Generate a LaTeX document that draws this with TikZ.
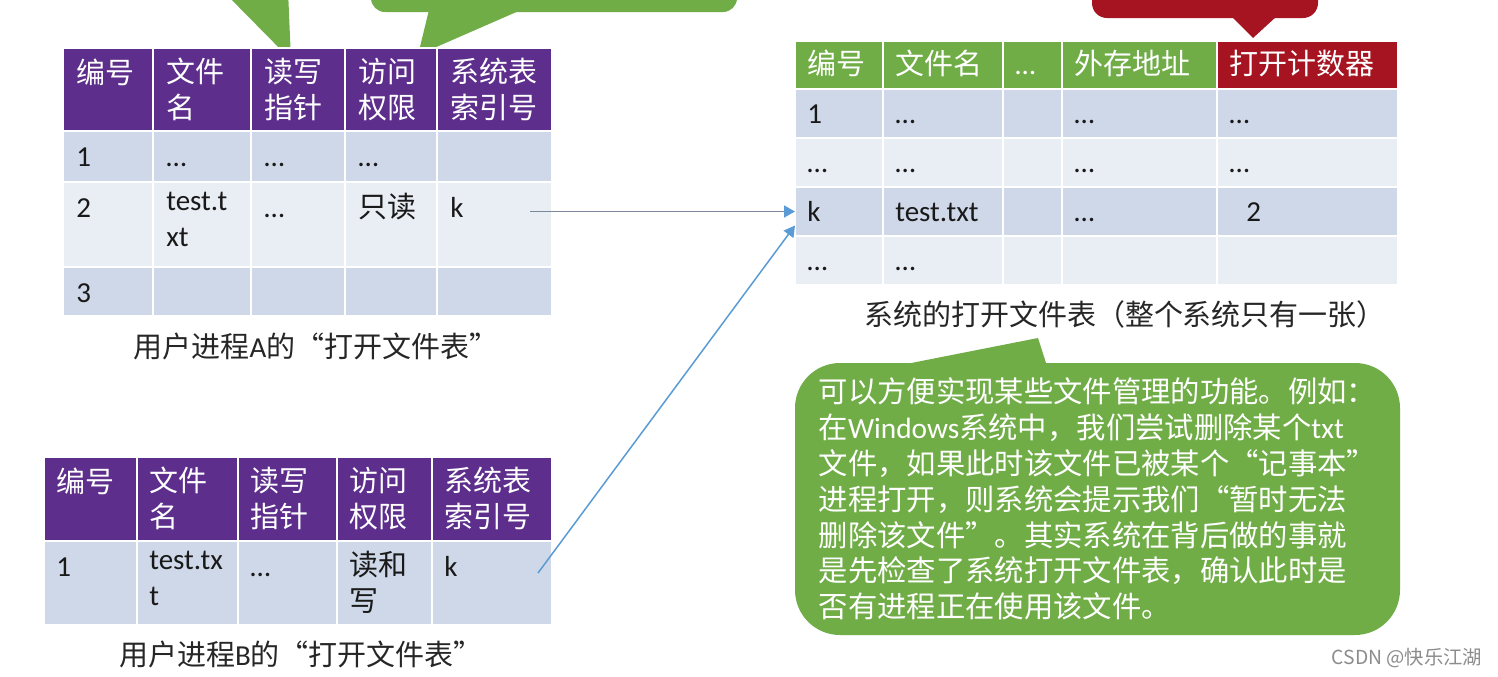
\documentclass[tikz,border=0pt]{standalone}
\usepackage{fontspec}
\setmainfont{Carlito}
\newfontfamily\cjk{Noto Sans CJK SC}
\usetikzlibrary{arrows.meta,calc}

\definecolor{hdrpurple}{RGB}{93,46,140}
\definecolor{hdrgreen}{RGB}{112,173,71}
\definecolor{hdrred}{RGB}{165,20,32}
\definecolor{rowdark}{RGB}{207,216,232}
\definecolor{rowlight}{RGB}{233,237,244}
\definecolor{callgreen}{RGB}{112,173,71}
\definecolor{linkblue}{RGB}{91,155,213}
\definecolor{linkgray}{RGB}{125,135,155}

\tikzset{
  cell/.style={draw=white, line width=0.45mm, anchor=north west, inner sep=0, outer sep=0},
  celltext/.style={anchor=north west, inner sep=0, align=left, text=black!90,
    font=\fontsize{16.5}{20.5}\selectfont, execute at begin node=\strut},
  headtext/.style={celltext, text=white, font=\fontsize{16.5}{20.5}\selectfont\cjk},
  caption/.style={inner sep=0, text=black!85, font=\fontsize{16.5}{20.5}\selectfont\cjk},
  note/.style={fill=callgreen, rounded corners=9mm, minimum width=121mm, minimum height=54.4mm,
    inner sep=0, align=left, text=white, font=\fontsize{16.7}{20.4}\selectfont\cjk},
  link/.style={line width=0.3mm, -{Triangle[length=2.2mm,width=2.4mm,color=linkblue]}},
}

\begin{document}
\begin{tikzpicture}[x=0.2mm, y=-0.2mm]
    \fill[white] (0,0) rectangle (1498,676);
    \clip (0,0) rectangle (1498,676);

    % 上方被截断的提示框
    \fill[callgreen] (222,-10) -- (291,60) -- (288,-10) -- cycle;
    \fill[callgreen, rounded corners=2.8mm] (371,-80) rectangle (737,12);
    \fill[callgreen] (429,10) -- (418,55) -- (521,10) -- cycle;
    \fill[hdrred, rounded corners=3mm] (1092,-80) rectangle (1318,18);
    \fill[hdrred] (1231,16) -- (1253,38) -- (1277,16) -- cycle;

    % 用户进程A的打开文件表
    \foreach \cx/\cw [count=\c] in {63/90,153/98,251/94,345/92,437/115} {
        \node[cell, fill=hdrpurple, minimum width=\cw*0.2mm, minimum height=83*0.2mm] (a-0-\c) at (\cx,48) {};
        \foreach \ry/\rh/\rc [count=\r] in {131/51/rowdark,182/85/rowlight,267/49/rowdark}
            \node[cell, fill=\rc, minimum width=\cw*0.2mm, minimum height=\rh*0.2mm] (a-\r-\c) at (\cx,\ry) {};
    }
    \foreach \n/\t in {a-0-1/编号, a-0-2/{文件\\名}, a-0-3/{读写\\指针}, a-0-4/{访问\\权限}, a-0-5/{系统表\\索引号}}
        \node[headtext] (\n-t) at ([shift={(13,10)}]\n.north west) {\t};
    \foreach \n/\t in {a-1-1/1, a-1-2/…, a-1-3/…, a-1-4/…, a-2-1/2, a-2-2/{test.t\\xt}, a-2-3/…, a-2-4/{\cjk 只读}, a-2-5/k, a-3-1/3}
        \node[celltext] (\n-t) at ([shift={(13,10)}]\n.north west) {\t};
    \node[caption] (capA) at (316,346) {用户进程\textrm{A}的“打开文件表”};

    % 用户进程B的打开文件表
    \foreach \cx/\cw [count=\c] in {44/93,137/101,238/99,337/95,432/120} {
        \node[cell, fill=hdrpurple, minimum width=\cw*0.2mm, minimum height=84*0.2mm] (b-0-\c) at (\cx,457) {};
        \node[cell, fill=rowdark, minimum width=\cw*0.2mm, minimum height=84*0.2mm] (b-1-\c) at (\cx,541) {};
    }
    \foreach \n/\t in {b-0-1/编号, b-0-2/{文件\\名}, b-0-3/{读写\\指针}, b-0-4/{访问\\权限}, b-0-5/{系统表\\索引号}}
        \node[headtext] (\n-t) at ([shift={(12,10)}]\n.north west) {\t};
    \foreach \n/\t in {b-1-1/1, b-1-2/{test.tx\\t}, b-1-3/…, b-1-4/{\cjk 读和\\\cjk 写}, b-1-5/k}
        \node[celltext] (\n-t) at ([shift={(12,10)}]\n.north west) {\t};
    \node[caption] (capB) at (301,654) {用户进程\textrm{B}的“打开文件表”};

    % 系统的打开文件表
    \foreach \cx/\cw/\hc [count=\c] in {795/88/hdrgreen,883/120/hdrgreen,1003/59/hdrgreen,1062/155/hdrgreen,1217/181/hdrred} {
        \node[cell, fill=\hc, minimum width=\cw*0.2mm, minimum height=48*0.2mm] (s-0-\c) at (\cx,41) {};
        \foreach \ry/\rc [count=\r] in {89/rowdark,138/rowlight,187/rowdark,236/rowlight}
            \node[cell, fill=\rc, minimum width=\cw*0.2mm, minimum height=49*0.2mm] (s-\r-\c) at (\cx,\ry) {};
    }
    \foreach \n/\t in {s-0-1/编号, s-0-2/文件名, s-0-3/\textrm{…}, s-0-4/外存地址, s-0-5/打开计数器}
        \node[headtext] (\n-t) at ([shift={(12,8)}]\n.north west) {\t};
    \foreach \n/\t in {s-1-1/1, s-1-2/…, s-1-4/…, s-1-5/…, s-2-1/…, s-2-2/…, s-2-4/…, s-2-5/…,
                       s-3-1/k, s-3-2/test.txt, s-3-4/…, s-4-1/…, s-4-2/…}
        \node[celltext] (\n-t) at ([shift={(12,9)}]\n.north west) {\t};
    \node[celltext] (s-3-5-t) at ([shift={(29,9)}]s-3-5.north west) {2};
    \node[caption] (capS) at (1125,314) {系统的打开文件表（整个系统只有一张）};

    % 索引指向系统表
    \draw[link, draw=linkgray] ($(a-2-5.east |- s-3-1.west)+(-22,0)$) -- (s-3-1.west);
    \draw[link, draw=linkblue] ($(b-1-5.east)+(-14,-10)$) -- ($(s-3-1.west)+(0,14)$);

    % 说明
    \fill[callgreen] (896,366) -- (1038,338) -- (1047,366) -- cycle;
    \node[note] (note) at (1097.5,499) {可以方便实现某些文件管理的功能。例如：\\
        在\textrm{Windows}系统中，我们尝试删除某个\textrm{txt}\\
        文件，如果此时该文件已被某个“记事本”\\
        进程打开，则系统会提示我们“暂时无法\\
        删除该文件”。其实系统在背后做的事就\\
        是先检查了系统打开文件表，确认此时是\\
        否有进程正在使用该文件。};

    \node[text=black!45, font=\fontsize{11}{13}\selectfont\cjk] (mark) at (1407,658) {CSDN @快乐江湖};
\end{tikzpicture}
\end{document}
